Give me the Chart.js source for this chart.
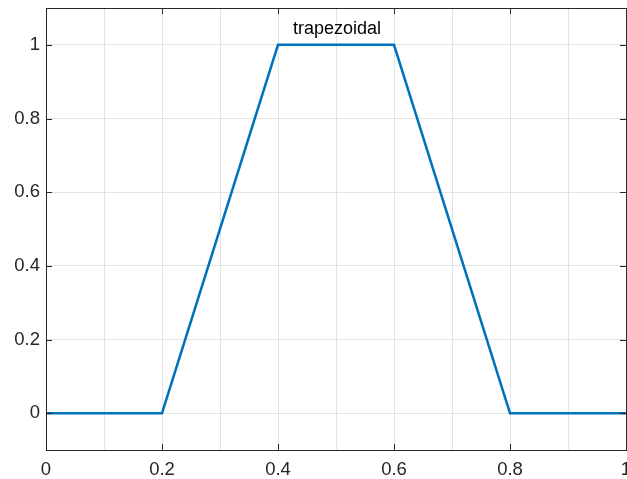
<!DOCTYPE html>
<html>
<head>
<meta charset="utf-8">
<script src="https://cdn.jsdelivr.net/npm/chart.js@4"></script>
<style>
  body { margin: 0; background: #fff; }
  #wrap { width: 627px; height: 479px; position: relative; }
</style>
</head>
<body>
<div id="wrap"><canvas id="myChart"></canvas></div>
<script>
// membership function breakpoints
const xValues = [0, 0.2, 0.4, 0.6, 0.8, 1];
const yValues = [0, 0, 1, 1, 0, 0];

// axis ticks
const xTicks = [0, 0.2, 0.4, 0.6, 0.8, 1];
const xGrid = [0, 0.1, 0.2, 0.3, 0.4, 0.5, 0.6, 0.7, 0.8, 0.9, 1];
const yTicks = [0, 0.2, 0.4, 0.6, 0.8, 1];
const titleText = 'trapezoidal';

const axisColor = '#262626';
const gridColor = '#e3e3e3';
const fontFamily = '"Liberation Sans", Arial, sans-serif';

// box frame, inward tick marks and the title inside the axes
const frame = {
  id: 'frame',
  afterDraw(chart) {
    const { ctx, chartArea: a, scales } = chart;
    const len = 6;
    ctx.save();
    ctx.strokeStyle = axisColor;
    ctx.lineWidth = 1;
    ctx.beginPath();
    xTicks.forEach(v => {
      const px = Math.round(scales.x.getPixelForValue(v)) + 0.5;
      ctx.moveTo(px, a.bottom); ctx.lineTo(px, a.bottom - len);
      ctx.moveTo(px, a.top); ctx.lineTo(px, a.top + len);
    });
    yTicks.forEach(v => {
      const py = Math.round(scales.y.getPixelForValue(v)) + 0.5;
      ctx.moveTo(a.left, py); ctx.lineTo(a.left + len, py);
      ctx.moveTo(a.right, py); ctx.lineTo(a.right - len, py);
    });
    ctx.stroke();
    ctx.strokeRect(a.left + 0.5, a.top + 0.5, a.right - a.left, a.bottom - a.top);

    ctx.fillStyle = '#000';
    ctx.font = '18px ' + fontFamily;
    ctx.textAlign = 'center';
    ctx.textBaseline = 'alphabetic';
    ctx.fillText(titleText, (a.left + a.right) / 2 + 1, a.top + 26);
    ctx.restore();
  }
};

const ctx = document.getElementById('myChart').getContext('2d');
const myChart = new Chart(ctx, {
  type: 'scatter',
  data: {
    datasets: [{
      data: xValues.map((x, i) => ({ x, y: yValues[i] })),
      showLine: true,
      borderColor: '#0072BD',
      borderWidth: 2.5,
      pointRadius: 0,
      tension: 0
    }]
  },
  options: {
    responsive: true,
    maintainAspectRatio: false,
    animation: false,
    layout: { padding: { top: 8, right: 1, left: 0, bottom: 0 } },
    plugins: { legend: { display: false }, tooltip: { enabled: false } },
    scales: {
      x: {
        type: 'linear',
        min: 0,
        max: 1,
        afterBuildTicks: s => { s.ticks = xGrid.map(v => ({ value: v })); },
        afterFit: s => { s.height = 29; s.paddingLeft = 0; s.paddingRight = 0; },
        grid: { color: gridColor, drawTicks: false },
        border: { display: false },
        ticks: {
          padding: 9,
          color: axisColor,
          maxRotation: 0,
          autoSkip: false,
          font: { family: fontFamily, size: 18.5 },
          callback: v => xTicks.some(t => Math.abs(t - v) < 1e-9) ? String(Math.round(v * 10) / 10) : ''
        }
      },
      y: {
        type: 'linear',
        min: -0.1,
        max: 1.1,
        afterBuildTicks: s => { s.ticks = yTicks.map(v => ({ value: v })); },
        afterFit: s => { s.width = 46; s.paddingTop = 0; s.paddingBottom = 0; },
        grid: { color: gridColor, drawTicks: false },
        border: { display: false },
        ticks: {
          padding: 6,
          color: axisColor,
          autoSkip: false,
          font: { family: fontFamily, size: 18.5 },
          callback: v => String(Math.round(v * 10) / 10)
        }
      }
    }
  },
  plugins: [frame]
});
</script>
</body>
</html>
